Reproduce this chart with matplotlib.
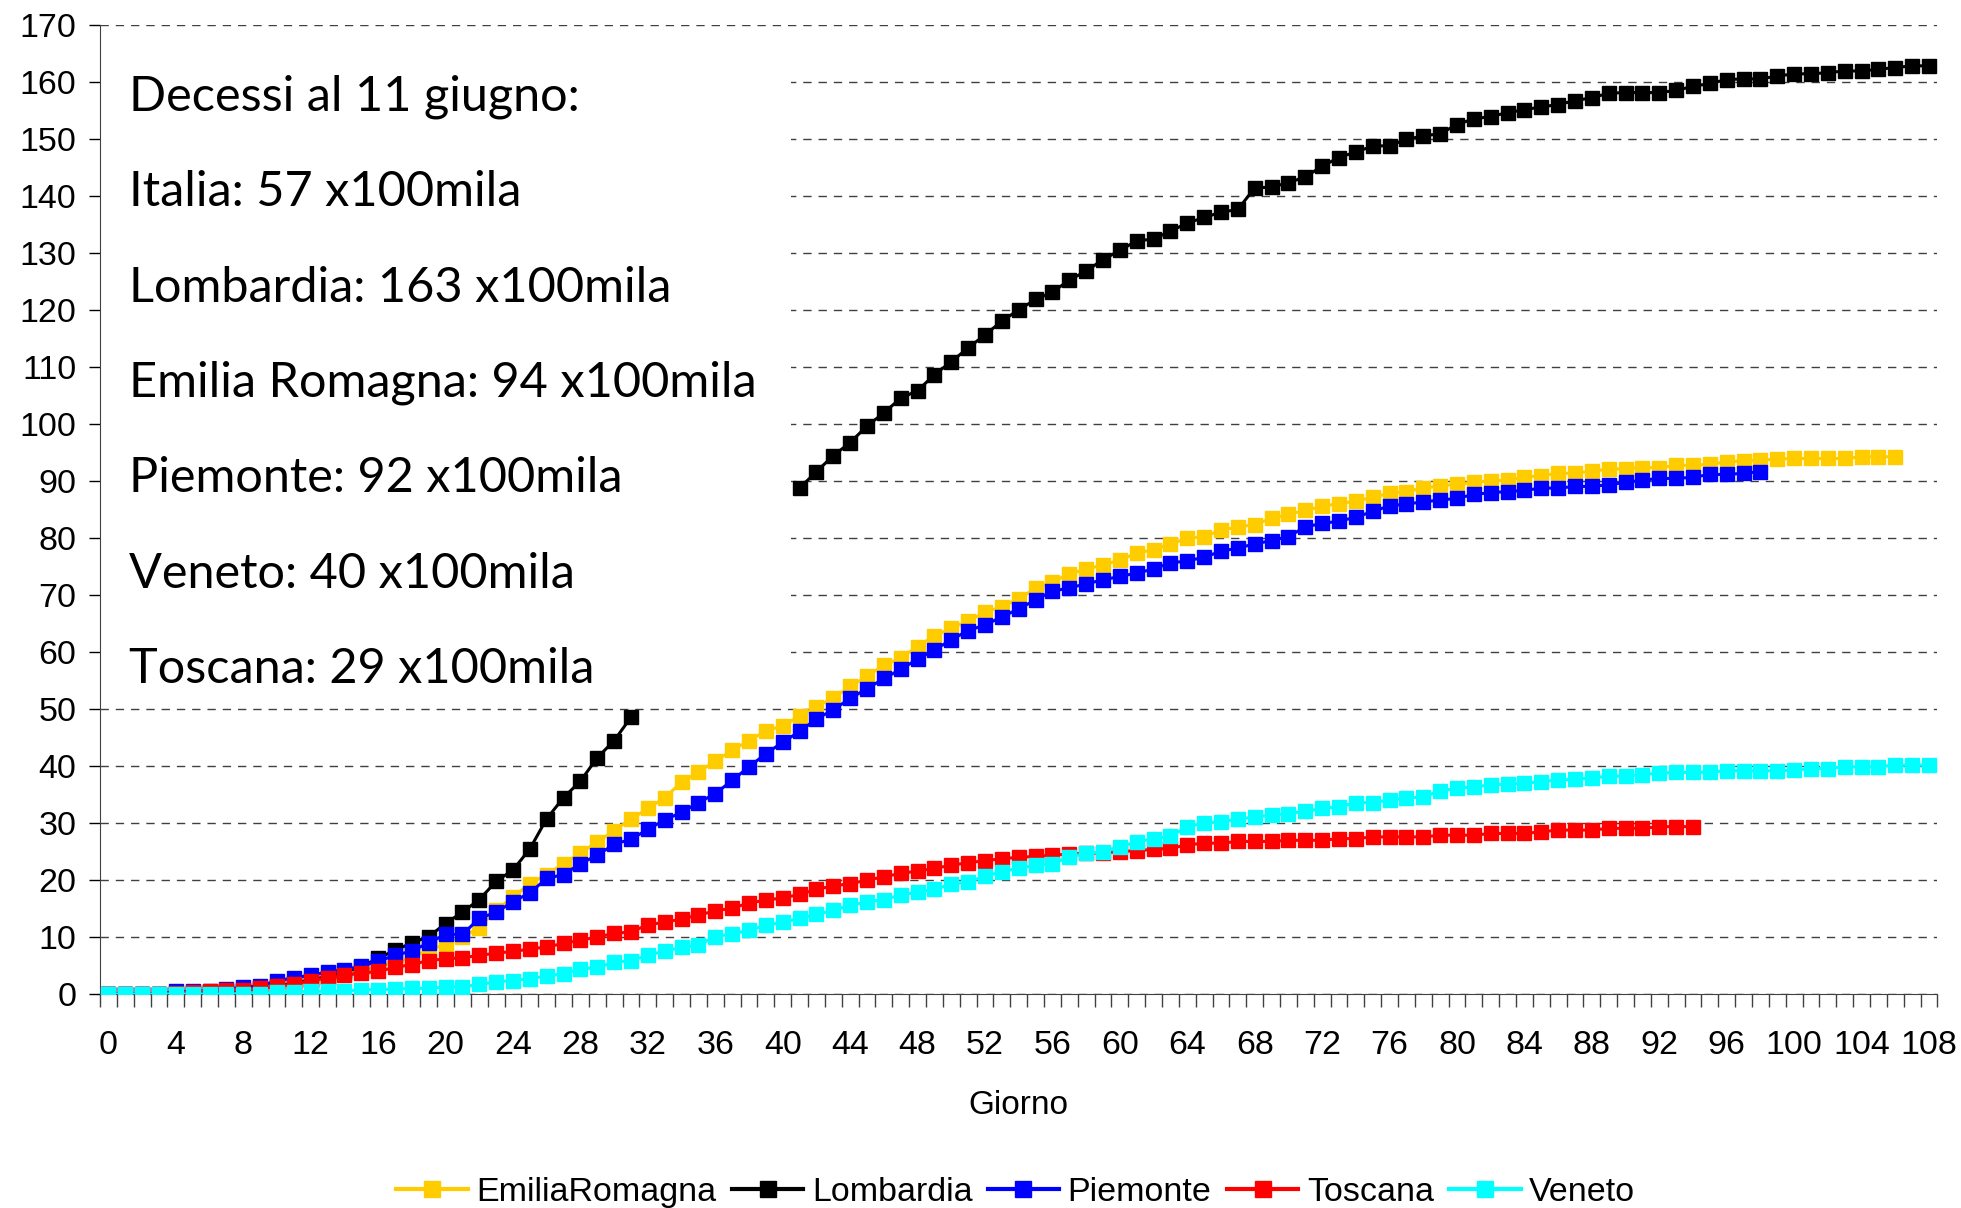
import numpy as np
import matplotlib
matplotlib.use('Agg')
import matplotlib.pyplot as plt
from matplotlib.patches import Rectangle

# day index on the x axis
days = np.arange(0, 109)

emilia = [0, 0, 0, 0, 0.2, 0.3, 0.4, 0.6, 0.8, 1.1,
          1.5, 2.0, 2.5, 3.0, 3.5, 4.0, 4.8, 5.6, 6.5, 7.8,
          8.7, 10.0, 11.7, 14.8, 17.0, 19.4, 21.0, 22.9, 24.8, 26.7,
          28.7, 30.7, 32.6, 34.5, 37.2, 39.0, 40.9, 42.8, 44.5, 46.2,
          47.1, 48.8, 50.4, 52.0, 54.0, 55.8, 57.7, 59.0, 61.0, 62.9,
          64.2, 65.5, 67.0, 68.0, 69.4, 71.2, 72.4, 73.7, 74.6, 75.3,
          76.2, 77.4, 78.0, 79.0, 80.0, 80.3, 81.4, 82.0, 82.4, 83.5,
          84.2, 84.9, 85.6, 86.1, 86.5, 87.2, 87.9, 88.2, 88.8, 89.2,
          89.5, 89.8, 90.1, 90.2, 90.7, 91.0, 91.4, 91.4, 91.8, 92.1,
          92.2, 92.4, 92.4, 92.8, 92.8, 93.0, 93.4, 93.6, 93.7, 93.9,
          94.0, 94.0, 94.0, 94.0, 94.3, 94.3, 94.3]

nan = np.nan
lombardia = [0, 0, 0, 0, 0.1, 0.2, 0.3, 0.5, 0.7, 1.0,
             1.4, 1.9, 2.5, 3.1, 3.9, 4.8, 6.3, 7.7, 9.0, 10.1,
             12.4, 14.4, 16.6, 19.8, 21.8, 25.5, 30.8, 34.5, 37.4, 41.5,
             44.5, 48.6,
             nan, nan, nan, nan, nan, nan, nan, nan, nan,
             88.8, 91.7, 94.5, 96.8, 99.7, 102.0, 104.6, 105.9, 108.7, 111.0,
             113.4, 115.7, 118.1, 120.1, 121.9, 123.2, 125.3, 126.9, 128.9, 130.5,
             132.2, 132.5, 133.9, 135.3, 136.3, 137.2, 137.7, 141.5, 141.6, 142.4,
             143.4, 145.3, 146.8, 147.8, 148.8, 148.9, 150.0, 150.6, 151.0, 152.6,
             153.6, 154.0, 154.7, 155.2, 155.7, 156.1, 156.8, 157.3, 158.1, 158.2,
             158.2, 158.2, 158.6, 159.3, 159.8, 160.5, 160.6, 160.6, 161.1, 161.5,
             161.5, 161.7, 162.0, 162.0, 162.3, 162.6, 162.9, 162.9]

piemonte = [0, 0, 0, 0, 0.5, 0.5, 0.6, 0.9, 1.2, 1.5,
            2.3, 2.9, 3.3, 3.9, 4.3, 4.9, 5.8, 6.8, 7.6, 9.0,
            10.5, 10.5, 13.3, 14.4, 16.2, 17.8, 20.3, 21.0, 22.9, 24.4,
            26.3, 27.2, 28.9, 30.6, 31.9, 33.6, 35.2, 37.5, 39.9, 42.2,
            44.2, 46.1, 48.3, 49.9, 51.9, 53.6, 55.4, 57.0, 58.8, 60.4,
            62.2, 63.8, 64.8, 66.2, 67.6, 69.2, 70.7, 71.3, 72.0, 72.7,
            73.3, 73.9, 74.6, 75.7, 76.0, 76.7, 77.7, 78.3, 79.0, 79.6,
            80.3, 82.0, 82.6, 83.0, 83.7, 84.7, 85.7, 86.0, 86.4, 86.7,
            87.0, 87.7, 88.0, 88.2, 88.4, 88.8, 88.8, 89.1, 89.1, 89.4,
            89.8, 90.2, 90.5, 90.5, 90.7, 91.2, 91.2, 91.4, 91.7]

toscana = [0, 0, 0, 0, 0.2, 0.4, 0.6, 0.7, 0.8, 1.0,
           1.4, 1.7, 2.4, 2.8, 3.3, 3.7, 4.0, 4.7, 5.2, 5.9,
           6.2, 6.4, 6.8, 7.2, 7.5, 7.9, 8.3, 8.9, 9.5, 10.0,
           10.7, 10.9, 12.2, 12.6, 13.2, 13.9, 14.6, 15.1, 16.0, 16.5,
           16.9, 17.5, 18.4, 19.0, 19.4, 20.0, 20.6, 21.2, 21.6, 22.1,
           22.6, 23.1, 23.4, 23.8, 24.0, 24.2, 24.4, 24.6, 24.7, 24.8,
           25.0, 25.2, 25.4, 25.6, 26.2, 26.5, 26.5, 26.8, 26.8, 26.8,
           27.0, 27.0, 27.0, 27.3, 27.3, 27.6, 27.6, 27.6, 27.6, 27.9,
           27.9, 27.9, 28.2, 28.2, 28.2, 28.5, 28.8, 28.8, 28.8, 29.1,
           29.1, 29.1, 29.4, 29.4, 29.4]

veneto = [0, 0, 0, 0, 0, 0, 0, 0, 0, 0,
          0.4, 0.4, 0.5, 0.5, 0.5, 0.8, 0.8, 0.9, 1.0, 1.0,
          1.3, 1.3, 1.7, 2.2, 2.4, 2.7, 3.2, 3.6, 4.4, 4.7,
          5.6, 5.9, 6.8, 7.6, 8.2, 8.6, 10.1, 10.6, 11.2, 12.1,
          12.6, 13.3, 14.0, 14.7, 15.6, 16.2, 16.6, 17.4, 17.9, 18.4,
          19.3, 19.7, 20.7, 21.5, 22.1, 22.6, 22.9, 24.1, 24.7, 25.0,
          25.9, 26.7, 27.3, 27.7, 29.4, 30.0, 30.3, 30.7, 31.1, 31.4,
          31.7, 32.1, 32.6, 32.9, 33.6, 33.6, 34.1, 34.4, 34.6, 35.7,
          36.1, 36.4, 36.7, 36.9, 37.0, 37.3, 37.6, 37.7, 38.0, 38.2,
          38.3, 38.5, 38.8, 38.9, 38.9, 39.0, 39.2, 39.2, 39.2, 39.2,
          39.3, 39.6, 39.6, 39.9, 39.9, 39.9, 40.2, 40.2, 40.2]

series_names = ['EmiliaRomagna', 'Lombardia', 'Piemonte', 'Toscana', 'Veneto']
series_colors = ['#FFCC00', '#000000', '#0000FF', '#FF0000', '#00FFFF']

note_lines = ['Decessi al 11 giugno:',
              'Italia: 57 x100mila',
              'Lombardia: 163 x100mila',
              'Emilia Romagna: 94 x100mila',
              'Piemonte: 92 x100mila',
              'Veneto: 40 x100mila',
              'Toscana: 29 x100mila']


def pad(values):
    # series end on different days, fill the rest with NaN
    arr = np.full(len(days), np.nan)
    arr[:len(values)] = values
    return arr


plt.rcParams['font.family'] = ['Liberation Sans', 'DejaVu Sans']

fig = plt.figure(figsize=(19.61, 12.08), dpi=100)
ax = fig.add_axes([0.051, 0.177, 0.937, 0.802])

for name, vals, col in zip(series_names, [emilia, lombardia, piemonte, toscana, veneto], series_colors):
    ax.plot(days, pad(vals), '-', color=col, linewidth=2.2, marker='s',
            markersize=9.5, markeredgecolor=col, label=name, zorder=3)

ax.set_xlim(-0.5, 108.5)
ax.set_ylim(0, 170)
ax.set_yticks(np.arange(0, 171, 10))
ax.set_xticks(np.arange(0, 109, 4))
ax.set_xticks(np.arange(-0.5, 109, 1), minor=True)
ax.tick_params(axis='x', which='major', length=0, pad=26, labelsize=24.5)
ax.tick_params(axis='x', which='minor', length=9, width=1, color='#404040')
ax.tick_params(axis='y', which='major', length=8, width=1, labelsize=24.5, pad=9)

ax.set_axisbelow(True)
ax.yaxis.grid(True, linestyle=(0, (6, 5)), color='#404040', linewidth=1)

for side in ['top', 'right']:
    ax.spines[side].set_visible(False)
ax.spines['left'].set_color('#404040')
ax.spines['bottom'].set_color('#404040')

ax.set_xlabel('Giorno', fontsize=24, labelpad=21)

# white note box over the grid
ax.add_patch(Rectangle((-0.5, 51.5), 41.0, 116.5, facecolor='white',
                       edgecolor='none', zorder=1))
for i, line in enumerate(note_lines):
    ax.text(1.2, 157.4 - i * 16.72, line, fontsize=35, family=['Lato', 'DejaVu Sans'],
            va='center', ha='left', zorder=2)

leg = fig.legend(loc='center', bbox_to_anchor=(0.518, 0.0125), ncol=5, frameon=False,
                 fontsize=24.5, handlelength=2.1, handletextpad=0.25, columnspacing=0.45)
for h in leg.legend_handles:
    h.set_linewidth(3)
    h.set_markersize(11)

plt.savefig('out.png', dpi=100)
plt.close()
